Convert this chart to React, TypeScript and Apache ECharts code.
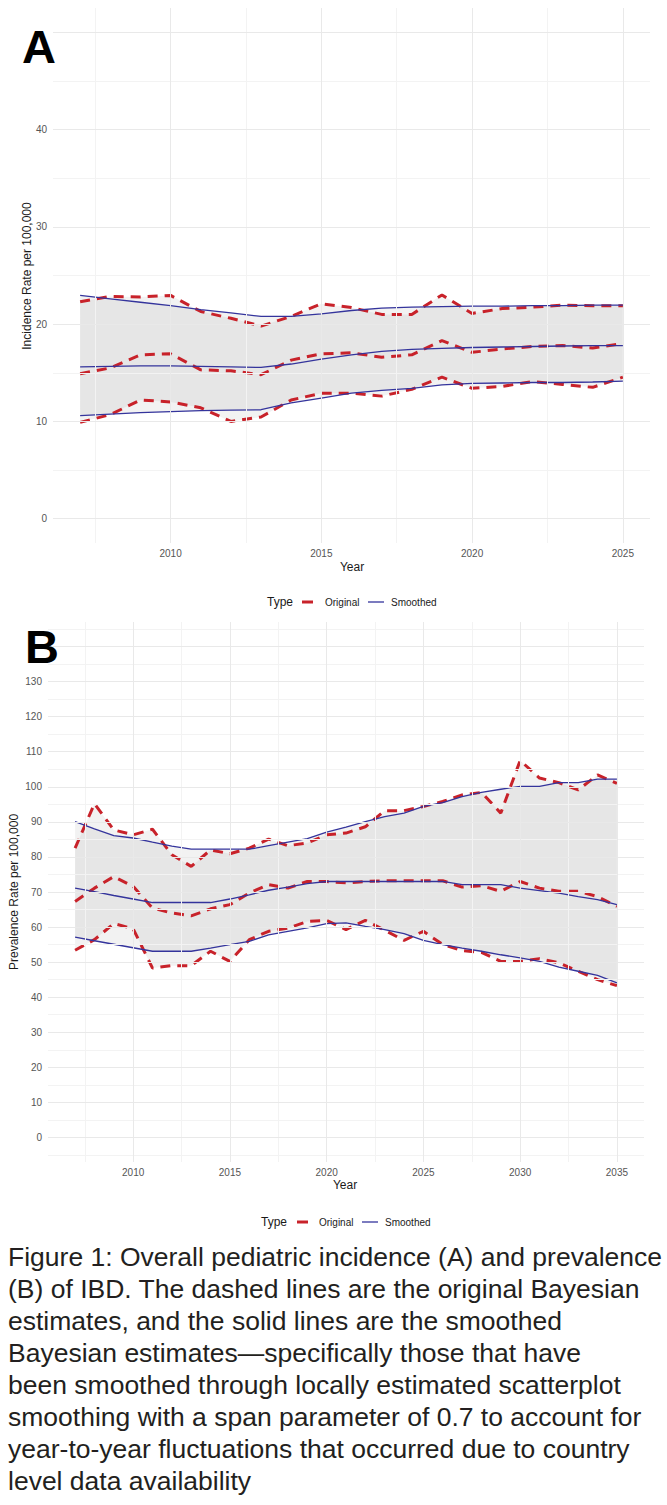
import React, { useEffect, useRef } from "react";
import * as echarts from "echarts";

// ---------- Panel A: incidence per 100,000 ----------
const incYears = [2007, 2008, 2009, 2010, 2011, 2012, 2013, 2014, 2015, 2016, 2017, 2018, 2019, 2020, 2021, 2022, 2023, 2024, 2025];
const incUpperOrig = [22.3, 22.85, 22.8, 22.95, 21.3, 20.6, 19.8, 20.8, 22.1, 21.7, 21.0, 21.0, 23.0, 21.1, 21.6, 21.75, 21.95, 21.9, 21.9];
const incUpperSmooth = [22.95, 22.6, 22.25, 21.9, 21.5, 21.15, 20.8, 20.8, 21.05, 21.4, 21.65, 21.75, 21.8, 21.85, 21.85, 21.9, 21.9, 21.95, 21.95];
const incMidOrig = [14.9, 15.5, 16.85, 16.95, 15.3, 15.2, 14.8, 16.3, 16.95, 17.05, 16.6, 16.85, 18.3, 17.1, 17.45, 17.7, 17.8, 17.55, 18.0];
const incMidSmooth = [15.6, 15.65, 15.7, 15.7, 15.65, 15.6, 15.55, 15.9, 16.4, 16.85, 17.2, 17.4, 17.5, 17.6, 17.65, 17.7, 17.75, 17.8, 17.8];
const incLowerOrig = [9.9, 10.7, 12.2, 12.0, 11.4, 10.0, 10.45, 12.2, 12.9, 12.9, 12.6, 13.3, 14.55, 13.4, 13.6, 14.1, 13.8, 13.5, 14.55];
const incLowerSmooth = [10.6, 10.75, 10.9, 11.0, 11.1, 11.15, 11.2, 11.9, 12.4, 12.9, 13.2, 13.4, 13.75, 13.9, 13.95, 14.0, 14.0, 14.05, 14.15];

// ---------- Panel B: prevalence per 100,000 ----------
const prevYears = [2007, 2008, 2009, 2010, 2011, 2012, 2013, 2014, 2015, 2016, 2017, 2018, 2019, 2020, 2021, 2022, 2023, 2024, 2025, 2026, 2027, 2028, 2029, 2030, 2031, 2032, 2033, 2034, 2035];
const prevUpperOrig = [82.5, 95.2, 87.7, 86.3, 87.9, 80.6, 77.3, 82.0, 80.9, 82.5, 85.1, 83.2, 84.0, 86.3, 86.8, 88.6, 93.2, 93.2, 94.4, 95.8, 97.7, 98.4, 92.5, 107.5, 102.5, 101.2, 99.1, 103.4, 101.0];
const prevUpperSmooth = [90.1, 88.0, 86.1, 85.4, 84.2, 83.1, 82.2, 82.2, 82.2, 82.2, 83.2, 84.2, 85.2, 87.1, 88.5, 90.1, 91.5, 92.5, 94.4, 95.5, 97.2, 98.4, 99.3, 100.1, 100.1, 101.2, 101.2, 102.2, 102.2];
const prevMidOrig = [67.3, 71.1, 74.4, 71.6, 65.4, 64.0, 63.2, 65.2, 66.4, 69.7, 72.1, 71.1, 73.0, 73.0, 72.6, 73.0, 73.2, 73.2, 73.2, 73.2, 71.4, 71.8, 70.2, 73.0, 71.1, 70.2, 70.2, 68.7, 65.9];
const prevMidSmooth = [71.1, 70.1, 69.0, 68.0, 67.0, 67.0, 67.0, 67.0, 68.0, 69.2, 70.5, 71.4, 72.4, 73.0, 73.0, 73.0, 73.0, 73.0, 73.0, 73.0, 72.1, 72.1, 72.1, 71.1, 70.4, 69.7, 68.7, 67.8, 66.4];
const prevLowerOrig = [53.4, 56.4, 61.0, 59.5, 48.3, 49.0, 49.0, 53.1, 50.2, 56.4, 58.8, 59.7, 61.6, 61.9, 59.3, 61.9, 59.1, 56.2, 58.8, 55.0, 53.3, 52.8, 50.2, 50.2, 51.0, 49.8, 47.4, 45.0, 43.3];
const prevLowerSmooth = [57.1, 56.1, 55.1, 54.1, 53.1, 53.1, 53.1, 54.0, 55.0, 55.9, 57.8, 58.8, 59.8, 61.0, 61.2, 60.2, 59.3, 58.1, 56.2, 55.0, 54.0, 53.1, 52.1, 51.2, 50.2, 48.6, 47.4, 46.2, 44.1];

// ---------- tick labels and grid breaks ----------
// the top break of each panel (50, 140) sits under the panel letter, so it gets a grid line but no label
const incXTicks = [2010, 2015, 2020, 2025];
const incXMinor = [2007.5, 2012.5, 2017.5, 2022.5];
const incYTicks = [0, 10, 20, 30, 40];
const incYBreaks = [0, 10, 20, 30, 40, 50];
const incYMinor = [5, 15, 25, 35, 45];
const prevXTicks = [2010, 2015, 2020, 2025, 2030, 2035];
const prevXMinor = [2007.5, 2012.5, 2017.5, 2022.5, 2027.5, 2032.5];
const prevYTicks = [0, 10, 20, 30, 40, 50, 60, 70, 80, 90, 100, 110, 120, 130];
const prevYBreaks = [0, 10, 20, 30, 40, 50, 60, 70, 80, 90, 100, 110, 120, 130, 140];
const prevYMinor = [-5, 5, 15, 25, 35, 45, 55, 65, 75, 85, 95, 105, 115, 125, 135, 145];

const captionLines = [
  "Figure 1: Overall pediatric incidence (A) and prevalence",
  "(B) of IBD. The dashed lines are the original Bayesian",
  "estimates, and the solid lines are the smoothed",
  "Bayesian estimates\u2014specifically those that have",
  "been smoothed through locally estimated scatterplot",
  "smoothing with a span parameter of 0.7 to account for",
  "year-to-year fluctuations that occurred due to country",
  "level data availability",
];

const FONT = "'Liberation Sans', Arial, Helvetica, sans-serif";
const RED = "#c8222a";
const BLUE = "#34349c";
const BAND = "rgba(150,150,150,0.12)";
const GRID_MAJOR = "#e9e9e9";
const GRID_MINOR = "#f3f3f3";

const pairs = (xs: number[], ys: number[]) => xs.map((x, i) => [x, ys[i]]);

function gridLineMarks(xMajor: number[], xMinor: number[], yMajor: number[], yMinor: number[]) {
  return [
    ...xMinor.map((v) => ({ xAxis: v, lineStyle: { color: GRID_MINOR, width: 1, type: "solid" } })),
    ...yMinor.map((v) => ({ yAxis: v, lineStyle: { color: GRID_MINOR, width: 1, type: "solid" } })),
    ...xMajor.map((v) => ({ xAxis: v, lineStyle: { color: GRID_MAJOR, width: 1, type: "solid" } })),
    ...yMajor.map((v) => ({ yAxis: v, lineStyle: { color: GRID_MAJOR, width: 1, type: "solid" } })),
  ];
}

// filled band between a lower and an upper curve, drawn through the axis scales
function ribbon(idx: number, years: number[], lo: number[], hi: number[]) {
  return {
    type: "custom",
    coordinateSystem: "cartesian2d",
    xAxisIndex: idx,
    yAxisIndex: idx,
    silent: true,
    z: 2,
    data: [[years[0], lo[0]]],
    renderItem: (_params: any, api: any) => {
      const top = years.map((x, i) => api.coord([x, hi[i]]));
      const bottom = years.map((x, i) => api.coord([x, lo[i]])).reverse();
      return {
        type: "polygon",
        shape: { points: top.concat(bottom) },
        style: { fill: BAND, stroke: "none" },
      };
    },
  };
}

function panelSeries(
  idx: number,
  years: number[],
  upO: number[], upS: number[],
  midO: number[], midS: number[],
  loO: number[], loS: number[],
  marks: any[]
) {
  const common = {
    type: "line",
    xAxisIndex: idx,
    yAxisIndex: idx,
    symbol: "none",
    showSymbol: false,
    silent: true,
    animation: false,
  };
  const orig = (ys: number[]) => ({
    ...common,
    name: "Original",
    z: 3,
    data: pairs(years, ys),
    lineStyle: { color: RED, width: 3, type: [10, 7], cap: "butt" },
  });
  const smooth = (ys: number[]) => ({
    ...common,
    name: "Smoothed",
    z: 4,
    data: pairs(years, ys),
    lineStyle: { color: BLUE, width: 1.3 },
  });
  return [
    {
      ...common,
      name: "grid",
      z: 0,
      data: pairs(years, loO),
      lineStyle: { width: 0, opacity: 0 },
      markLine: {
        silent: true,
        symbol: ["none", "none"],
        label: { show: false },
        animation: false,
        emphasis: { disabled: true },
        data: marks,
      },
    },
    ribbon(idx, years, loO, upO),
    ribbon(idx, years, loS, upS),
    orig(upO), orig(midO), orig(loO),
    smooth(upS), smooth(midS), smooth(loS),
  ];
}

function legend(typeX: number, y: number, dashX: number, origX: number, lineX: number, smoothX: number) {
  return [
    { type: "text", style: { text: "Type", x: typeX, y, font: `12px ${FONT}`, fill: "#1a1a1a", verticalAlign: "middle" } },
    { type: "line", shape: { x1: dashX, y1: y, x2: dashX + 11, y2: y }, style: { stroke: RED, lineWidth: 3 } },
    { type: "text", style: { text: "Original", x: origX, y, font: `10px ${FONT}`, fill: "#1a1a1a", verticalAlign: "middle" } },
    { type: "line", shape: { x1: lineX, y1: y, x2: lineX + 16, y2: y }, style: { stroke: BLUE, lineWidth: 1.3 } },
    { type: "text", style: { text: "Smoothed", x: smoothX, y, font: `10px ${FONT}`, fill: "#1a1a1a", verticalAlign: "middle" } },
  ];
}

export default function App() {
  const ref = useRef<HTMLDivElement>(null);

  useEffect(() => {
    if (!ref.current) return;
    const chart = echarts.init(ref.current, undefined, { renderer: "svg" });

    const axisLabelStyle = { color: "#555", fontSize: 10, fontFamily: FONT, formatter: (v: number) => String(v) };
    const hidden = { axisLine: { show: false }, axisTick: { show: false }, splitLine: { show: false } };

    const option: any = {
      animation: false,
      backgroundColor: "#fff",
      grid: [
        { left: 53, top: 8, width: 597, height: 535 },
        { left: 48, top: 622, width: 596, height: 540 },
      ],
      xAxis: [
        { gridIndex: 0, type: "value", min: 2006.1, max: 2025.9, ...hidden, axisLabel: { ...axisLabelStyle, margin: 5, customValues: incXTicks } },
        { gridIndex: 1, type: "value", min: 2005.6, max: 2036.4, ...hidden, axisLabel: { ...axisLabelStyle, margin: 5, customValues: prevXTicks } },
      ],
      yAxis: [
        { gridIndex: 0, type: "value", min: -2.5, max: 52.5, ...hidden, axisLabel: { ...axisLabelStyle, margin: 6, customValues: incYTicks } },
        { gridIndex: 1, type: "value", min: -7, max: 147, ...hidden, axisLabel: { ...axisLabelStyle, margin: 6, customValues: prevYTicks } },
      ],
      series: [
        ...panelSeries(0, incYears, incUpperOrig, incUpperSmooth, incMidOrig, incMidSmooth, incLowerOrig, incLowerSmooth,
          gridLineMarks(incXTicks, incXMinor, incYBreaks, incYMinor)),
        ...panelSeries(1, prevYears, prevUpperOrig, prevUpperSmooth, prevMidOrig, prevMidSmooth, prevLowerOrig, prevLowerSmooth,
          gridLineMarks(prevXTicks, prevXMinor, prevYBreaks, prevYMinor)),
      ],
      graphic: [
        // axis titles
        { type: "text", x: 27, y: 276, rotation: Math.PI / 2, style: { text: "Incidence Rate per 100,000", x: 0, y: 0, font: `12px ${FONT}`, fill: "#1a1a1a", align: "center", verticalAlign: "middle" } },
        { type: "text", style: { text: "Year", x: 352, y: 567, font: `12px ${FONT}`, fill: "#1a1a1a", align: "center", verticalAlign: "middle" } },
        { type: "text", x: 14, y: 892, rotation: Math.PI / 2, style: { text: "Prevalence Rate per 100,000", x: 0, y: 0, font: `12px ${FONT}`, fill: "#1a1a1a", align: "center", verticalAlign: "middle" } },
        { type: "text", style: { text: "Year", x: 345, y: 1185, font: `12px ${FONT}`, fill: "#1a1a1a", align: "center", verticalAlign: "middle" } },
        // legends
        ...legend(267, 602, 302, 325, 368, 391),
        ...legend(261, 1222, 297, 319, 362, 385),
        // panel letters
        { type: "text", z: 100, style: { text: "A", x: 22, y: 46, font: `bold 47px ${FONT}`, fill: "#000", verticalAlign: "middle" } },
        { type: "text", z: 100, style: { text: "B", x: 25, y: 646, font: `bold 47px ${FONT}`, fill: "#000", verticalAlign: "middle" } },
        // caption
        ...captionLines.map((t, i) => ({
          type: "text",
          style: { text: t, x: 8, y: 1257 + i * 32, font: `26.5px ${FONT}`, fill: "#231f20", verticalAlign: "middle" },
        })),
      ],
    };

    chart.setOption(option);
    return () => chart.dispose();
  }, []);

  return (
    <div
      ref={ref}
      style={{ position: "absolute", left: 0, top: 0, width: 667, height: 1505, background: "#fff" }}
    />
  );
}
